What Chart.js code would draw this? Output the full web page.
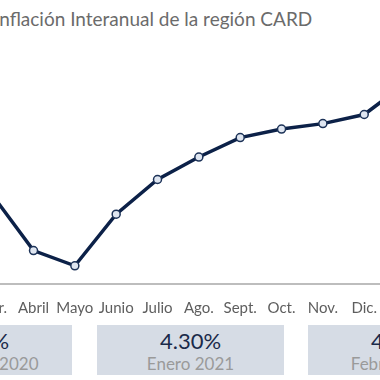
<!DOCTYPE html>
<html lang="es">
<head>
<meta charset="utf-8">
<script src="https://cdn.jsdelivr.net/npm/chart.js@4"></script>
<style>
  html, body { margin: 0; padding: 0; background: #fff; }
  body { width: 380px; height: 380px; overflow: hidden; position: relative; font-family: Lato, sans-serif; }
  .title { position: absolute; left: -6px; top: 7px; font-size: 19px; color: #6b6b6b; white-space: nowrap; }
  .wrap { position: absolute; left: -34px; top: 0; width: 466px; height: 320px; }
  .box { position: absolute; top: 325px; width: 187px; height: 50px; background: #d6dce5; text-align: center; }
  .box .val { font-size: 22px; color: #1a2a4a; margin-top: 3px; line-height: 26px; }
  .box .lbl { font-size: 17px; color: #9a9a9a; line-height: 20px; }
</style>
</head>
<body>
<div class="title">Inflación Interanual de la región CARD</div>
<div class="wrap"><canvas id="inflChart"></canvas></div>
<div id="boxes"></div>
<script>
// ── Data ─────────────────────────────────────────────────────
const months = ['Mar.', 'Abril', 'Mayo', 'Junio', 'Julio', 'Ago.', 'Sept.', 'Oct.', 'Nov.', 'Dic.', 'Enero'];
const inflation = [2.47, 1.55, 1.30, 2.15, 2.72, 3.09, 3.41, 3.55, 3.64, 3.79, 4.30];
const boxValues = ['3.79%', '4.30%', '4.50%'];
const boxLabels = ['Diciembre 2020', 'Enero 2021', 'Febrero 2021'];

// ── Line chart ───────────────────────────────────────────────
new Chart(document.getElementById('inflChart'), {
  type: 'line',
  data: {
    labels: months,
    datasets: [{
      data: inflation,
      borderColor: '#0c2148',
      borderWidth: 3.5,
      pointBackgroundColor: '#dfe6f1',
      pointBorderColor: '#1d3358',
      pointBorderWidth: 1.5,
      pointRadius: 4,
      tension: 0,
    }],
  },
  options: {
    responsive: true,
    maintainAspectRatio: false,
    animation: false,
    layout: { padding: { top: 41, left: 0, right: 0, bottom: 0 } },
    plugins: { legend: { display: false }, tooltip: { enabled: false } },
    scales: {
      x: {
        offset: true,
        grid: { display: false },
        border: { color: '#bdbdbd', width: 2 },
        ticks: { color: '#5e5e5e', font: { family: 'Lato', size: 15 }, padding: 7, maxRotation: 0, autoSkip: false },
        afterFit: s => { s.height = 36; },
      },
      y: { display: false, min: 1, max: 5 },
    },
  },
});

// ── Summary boxes ────────────────────────────────────────────
const lefts = [-115, 97, 308];
document.getElementById('boxes').innerHTML = boxValues.map((v, i) =>
  `<div class="box" style="left:${lefts[i]}px"><div class="val">${v}</div><div class="lbl">${boxLabels[i]}</div></div>`
).join('');
</script>
</body>
</html>
